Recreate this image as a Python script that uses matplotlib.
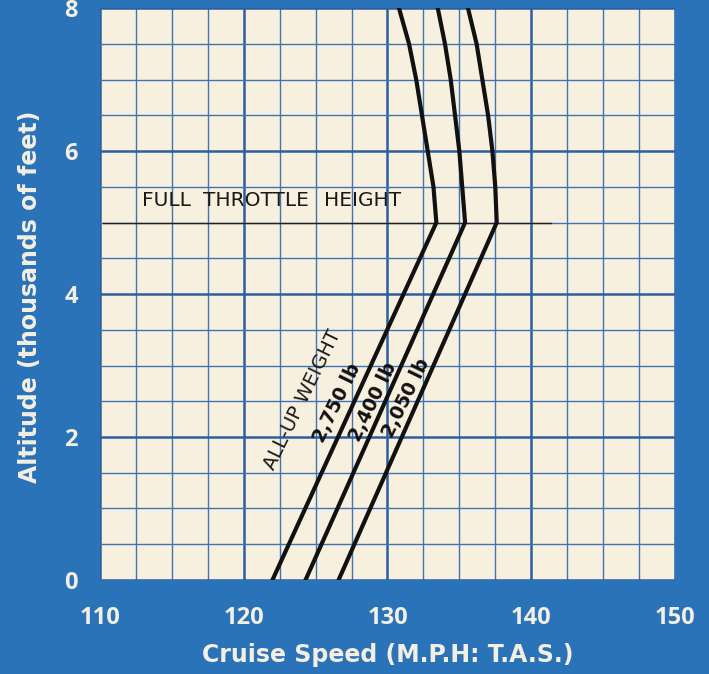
import matplotlib.pyplot as plt
import numpy as np

# data (speed in mph, altitude in thousands of feet)
alt = [0, 5, 5.5, 6, 6.5, 7, 7.5, 8]
w2750 = [122.0, 133.4, 133.2, 132.8, 132.4, 132.0, 131.5, 130.8]
w2400 = [124.3, 135.4, 135.2, 135.0, 134.7, 134.4, 134.0, 133.5]
w2050 = [126.6, 137.6, 137.5, 137.3, 137.0, 136.6, 136.2, 135.6]
weights = ['2,750 lb', '2,400 lb', '2,050 lb']
label_x = [126.5, 129.0, 131.3]
label_y = [2.48, 2.49, 2.55]
fth = 5.0          # full throttle height
fth_span = [110.2, 141.4]
fth_words = ['FULL', 'THROTTLE', 'HEIGHT']
fth_word_x = [112.9, 117.2, 125.6]

blue = '#2b73b8'
cream = '#f8f0df'
grid = '#3f74b4'
txt = '#f3efe2'

fig = plt.figure(figsize=(7.09, 6.74), dpi=100, facecolor=blue)
ax = fig.add_axes([0.141, 0.1395, 0.811, 0.8485])
ax.set_facecolor(cream)

ax.set_xlim(110, 150)
ax.set_ylim(0, 8)
ax.set_xticks(np.arange(110, 151, 10))
ax.set_yticks(np.arange(0, 9, 2))
ax.set_xticks(np.arange(110, 150.1, 2.5), minor=True)
ax.set_yticks(np.arange(0, 8.01, 0.5), minor=True)
ax.grid(which='minor', color=grid, lw=1.0)
ax.grid(which='major', color='#2c5f9f', lw=1.8)
ax.set_axisbelow(True)
for s in ax.spines.values():
    s.set_visible(False)
ax.tick_params(which='both', length=0)
ax.tick_params(axis='x', pad=19)
ax.tick_params(axis='y', pad=16)
for t in ax.get_xticklabels() + ax.get_yticklabels():
    t.set_fontfamily('Open Sans')
    t.set_fontweight('bold')
    t.set_fontsize(17)
    t.set_color(txt)

ax.set_xlabel('Cruise Speed (M.P.H: T.A.S.)', fontfamily='DejaVu Sans', fontweight='bold',
              fontsize=17, color=txt, va='center')
ax.xaxis.set_label_coords(0.5, -0.131)
ax.set_ylabel('Altitude (thousands of feet)', fontfamily='DejaVu Sans', fontweight='bold',
              fontsize=17, color=txt, va='center')
ax.yaxis.set_label_coords(-0.122, 0.495)

# full throttle height line
ax.plot(fth_span, [fth, fth], color='#222222', lw=1.0)
for wx, w in zip(fth_word_x, fth_words):
    ax.text(wx, 5.31, w, fontfamily='DejaVu Sans', fontsize=14.5,
            color='#1a1a1a', va='center', ha='left')

for xs in (w2750, w2400, w2050):
    ax.plot(xs, alt, color='#111111', lw=3.0, solid_joinstyle='miter')

ax.text(124.1, 2.52, 'ALL-UP WEIGHT', rotation=64, rotation_mode='anchor',
        ha='center', va='center', fontfamily='DejaVu Sans', fontsize=14, color='#1a1a1a')
for lx, ly, lab in zip(label_x, label_y, weights):
    ax.text(lx, ly, lab, rotation=64, rotation_mode='anchor', ha='center', va='center',
            fontfamily='DejaVu Sans', fontweight='bold', fontsize=13.5, color='#111111')

fig.savefig('out.png', dpi=100, facecolor=blue)
